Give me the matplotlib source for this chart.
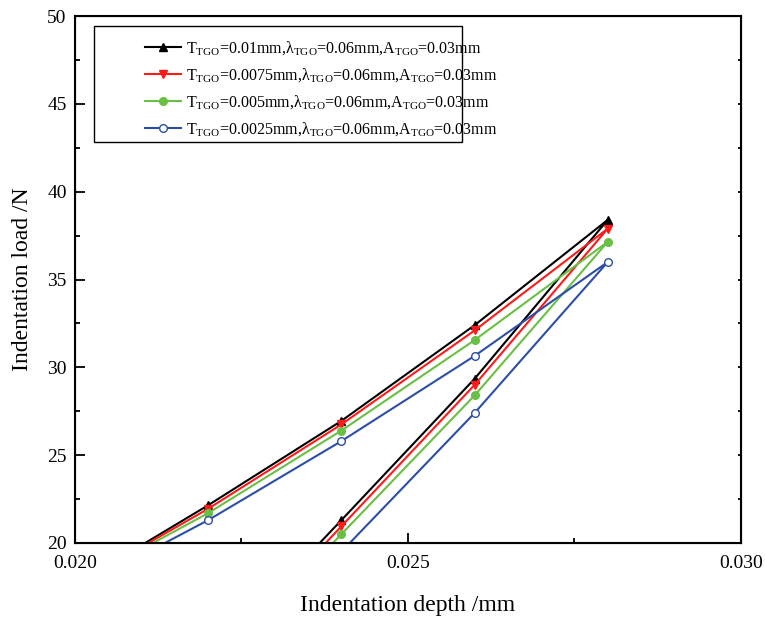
import matplotlib
matplotlib.use("Agg")
import matplotlib.pyplot as plt
from matplotlib.patches import Rectangle

plt.rcParams["font.family"] = ["Liberation Serif", "DejaVu Serif"]
plt.rcParams["mathtext.fontset"] = "custom"
plt.rcParams["mathtext.rm"] = "Liberation Serif"
plt.rcParams["mathtext.it"] = "Liberation Serif:italic"

# depth (mm): loading 0.020 -> 0.028, then unloading back to 0.022
depth = [0.020, 0.022, 0.024, 0.026, 0.028, 0.026, 0.024, 0.022]

load_t010 = [17.6, 22.15, 26.95, 32.4, 38.4, 29.35, 21.3, 13.3]
load_t0075 = [17.6, 21.95, 26.75, 32.1, 37.9, 29.0, 20.95, 12.9]
load_t005 = [17.6, 21.7, 26.4, 31.55, 37.15, 28.4, 20.5, 12.6]
load_t0025 = [17.3, 21.3, 25.8, 30.65, 36.0, 27.4, 19.5, 12.0]

labels = [
    r"T$_{\rm TGO}$=0.01mm,λ$_{\rm TGO}$=0.06mm,A$_{\rm TGO}$=0.03mm",
    r"T$_{\rm TGO}$=0.0075mm,λ$_{\rm TGO}$=0.06mm,A$_{\rm TGO}$=0.03mm",
    r"T$_{\rm TGO}$=0.005mm,λ$_{\rm TGO}$=0.06mm,A$_{\rm TGO}$=0.03mm",
    r"T$_{\rm TGO}$=0.0025mm,λ$_{\rm TGO}$=0.06mm,A$_{\rm TGO}$=0.03mm",
]

series = [load_t010, load_t0075, load_t005, load_t0025]
colors = ["#000000", "#ff1a1a", "#6abf45", "#2c4ea6"]
markers = ["^", "v", "o", "o"]
faces = ["#000000", "#ff1a1a", "#6abf45", "white"]

fig = plt.figure(figsize=(7.65, 6.19), dpi=100)
ax = fig.add_axes([0.098, 0.1228, 0.8706, 0.8512])

for y, c, m, fc, lab in zip(series, colors, markers, faces, labels):
    ax.plot(depth, y, color=c, marker=m, markerfacecolor=fc, markeredgecolor=c,
            markersize=5.5, linewidth=1.5, label=lab)

ax.set_xlim(0.020, 0.030)
ax.set_ylim(20, 50)
ax.set_xticks([0.020, 0.025, 0.030])
ax.set_xticklabels(["0.020", "0.025", "0.030"])
ax.set_xticks([0.0225, 0.0275], minor=True)
ax.set_yticks([20, 25, 30, 35, 40, 45, 50])
ax.set_yticks([22.5, 27.5, 32.5, 37.5, 42.5, 47.5], minor=True)

for s in ax.spines.values():
    s.set_linewidth(1.5)

ax.tick_params(which="major", direction="in", length=7, width=1.3, labelsize=14)
ax.tick_params(which="minor", direction="in", length=3.5, width=1.3)
ax.tick_params(axis="x", which="major", pad=9)
ax.tick_params(axis="y", which="major", pad=6)

# short ticks on the right spine via a twin axis
ax_r = ax.twinx()
ax_r.set_ylim(20, 50)
ax_r.set_yticks([20, 25, 30, 35, 40, 45, 50])
ax_r.set_yticks([22.5, 27.5, 32.5, 37.5, 42.5, 47.5], minor=True)
ax_r.tick_params(which="both", direction="in", length=2, width=1.3, labelright=False)

ax.set_xlabel("Indentation depth /mm", fontsize=17, labelpad=16)
ax.set_ylabel("Indentation load /N", fontsize=17, labelpad=10)

# legend frame drawn separately (large left margin in the original)
ax.add_patch(Rectangle((0.029, 0.761), 0.552, 0.220, transform=ax.transAxes,
                       fill=False, edgecolor="black", linewidth=1.0, zorder=5))
leg = ax.legend(loc="upper left", bbox_to_anchor=(0.095, 0.968), frameon=False,
                fontsize=11.5, handlelength=2.3, handletextpad=0.3, labelspacing=0.58,
                borderaxespad=0.0)

fig.savefig("out.png", dpi=100)
